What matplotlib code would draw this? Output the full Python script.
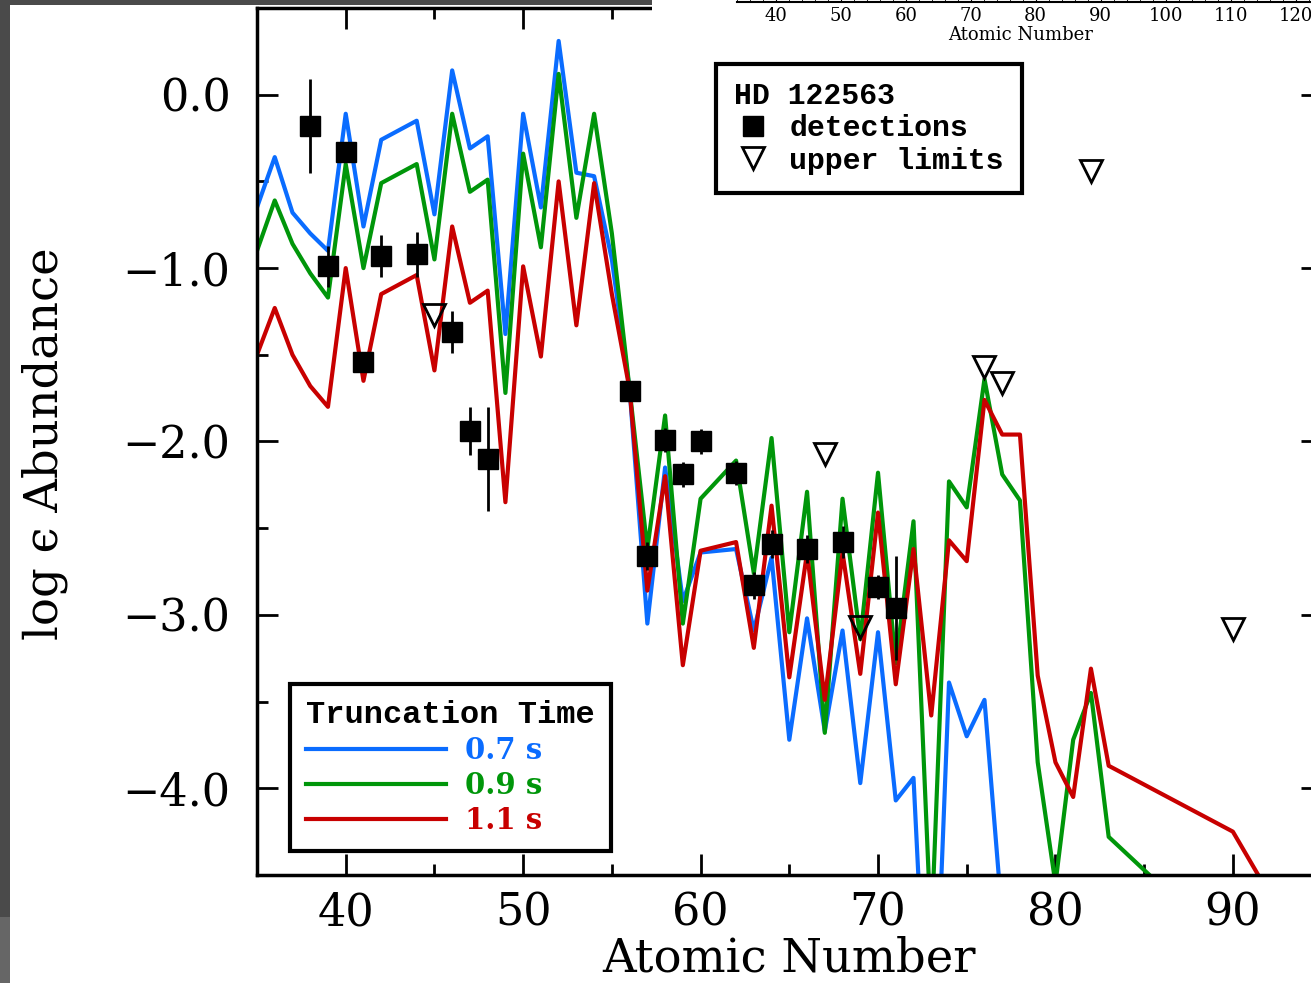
import numpy as np
import matplotlib
matplotlib.use('Agg')
import matplotlib.pyplot as plt
from matplotlib.patches import Rectangle
from matplotlib.ticker import MultipleLocator, FuncFormatter
from matplotlib.font_manager import FontProperties

#------------------DATA------------------#

# atomic numbers of the model curves (no points for Tc, Pm, Po..Ac, Pa)
z_model = [35, 36, 37, 38, 39, 40, 41, 42,
           44, 45, 46, 47, 48, 49, 50, 51, 52, 53, 54, 55, 56, 57, 58, 59, 60,
           62, 63, 64, 65, 66, 67, 68, 69, 70, 71, 72, 73, 74, 75, 76, 77, 78,
           79, 80, 81, 82, 83, 90, 92]

nan = np.nan
# log eps for truncation time 0.7 s
logeps_07 = [-0.65, -0.36, -0.68, -0.80, -0.90, -0.11, -0.76, -0.26,
             -0.15, -0.69, 0.14, -0.31, -0.24, -1.38, -0.11, -0.65, 0.31, -0.45, -0.47, -0.95, -1.70,
             -3.05, -2.15, -2.92, -2.64,
             -2.62, -3.09, -2.67, -3.72, -3.02, -3.67, -3.09, -3.97, -3.10, -4.07, -3.94, -6.00,
             -3.39, -3.70, -3.49, -4.75, nan,
             nan, nan, nan, nan, nan, nan, nan]
# 0.9 s
logeps_09 = [-0.90, -0.61, -0.86, -1.03, -1.17, -0.40, -1.00, -0.51,
             -0.40, -0.95, -0.11, -0.56, -0.49, -1.72, -0.34, -0.88, 0.12, -0.71, -0.11, -0.80, -1.70,
             -2.62, -1.85, -3.05, -2.33,
             -2.11, -2.76, -1.98, -3.10, -2.29, -3.68, -2.33, -3.14, -2.18, -3.28, -2.46, -4.85,
             -2.23, -2.38, -1.64, -2.19, -2.34,
             -3.85, -4.55, -3.72, -3.45, -4.28, -4.95, nan]
# 1.1 s
logeps_11 = [-1.50, -1.23, -1.50, -1.68, -1.80, -1.00, -1.65, -1.15,
             -1.04, -1.59, -0.76, -1.20, -1.13, -2.35, -0.99, -1.51, -0.50, -1.33, -0.51, -1.15, -1.70,
             -2.86, -2.20, -3.29, -2.63,
             -2.58, -3.19, -2.37, -3.36, -2.64, -3.49, -2.64, -3.34, -2.41, -3.40, -2.62, -3.58,
             -2.57, -2.69, -1.76, -1.96, -1.96,
             -3.35, -3.85, -4.05, -3.31, -3.87, -4.25, -4.60]

series_labels = ['0.7 s', '0.9 s', '1.1 s']
series_colors = ['#0a6cff', '#00960a', '#c80000']

# HD 122563 detections
det_z = [38, 39, 40, 41, 42, 44, 46, 47, 48, 56, 57, 58, 59, 60, 62, 63, 64, 66, 68, 70, 71]
det_logeps = [-0.18, -0.99, -0.33, -1.54, -0.93, -0.92, -1.37, -1.94, -2.10, -1.71, -2.66,
              -1.99, -2.19, -2.00, -2.18, -2.83, -2.59, -2.62, -2.58, -2.84, -2.96]
det_err = [0.27, 0.12, 0.05, 0.05, 0.12, 0.13, 0.12, 0.14, 0.30, 0.05, 0.08,
           0.07, 0.07, 0.07, 0.07, 0.08, 0.08, 0.08, 0.09, 0.07, 0.30]

# upper limits
ul_z = [45, 67, 69, 76, 77, 82, 90]
ul_logeps = [-1.27, -2.07, -3.07, -1.57, -1.66, -0.44, -3.08]

x_ticks = [40, 50, 60, 70, 80, 90]
y_ticks = [0.0, -1.0, -2.0, -3.0, -4.0]
top_ticks = [40, 50, 60, 70, 80, 90, 100, 110, 120]

#------------------FIGURE------------------#
W, H = 1311, 983
fig = plt.figure(figsize=(W / 100, H / 100), dpi=100)

def fx(px):
    return px / W

def fy(py):
    return 1 - py / H

serif = ['DejaVu Serif', 'DejaVu Sans']
mono1 = FontProperties(family='Liberation Mono', weight='bold', size=21.5)
mono2 = FontProperties(family='Liberation Mono', weight='bold', size=23)

ax = fig.add_axes([fx(257), fy(875), (1321.6 - 257) / W, (875 - 8) / H])
ax.set_xlim(35, 95)
ax.set_ylim(-4.5, 0.5)

lines = []
for vals, lab, col in zip([logeps_07, logeps_09, logeps_11], series_labels, series_colors):
    ln, = ax.plot(z_model, vals, color=col, lw=3.0, label=lab, zorder=2)
    lines.append(ln)

ax.errorbar(det_z, det_logeps, yerr=det_err, fmt='none', ecolor='black', elinewidth=2, capsize=0, zorder=3)
squares, = ax.plot(det_z, det_logeps, 's', color='black', ms=14, zorder=4)
tris, = ax.plot(ul_z, ul_logeps, 'v', mfc='none', mec='black', mew=2.0, ms=16, zorder=4)

# axes style
for s in ax.spines.values():
    s.set_linewidth(2.5)
ax.xaxis.set_major_locator(plt.FixedLocator(x_ticks))
ax.xaxis.set_minor_locator(MultipleLocator(5))
ax.yaxis.set_major_locator(plt.FixedLocator(y_ticks))
ax.yaxis.set_minor_locator(MultipleLocator(0.5))
ax.yaxis.set_major_formatter(FuncFormatter(lambda v, p: f'{v:.1f}'.replace('-', '\u2212')))
ax.tick_params(which='both', direction='in', top=True, right=True, width=2)
ax.tick_params(which='major', length=15)
ax.tick_params(which='minor', length=8)
ax.tick_params(axis='y', pad=19)
ax.tick_params(axis='x', pad=12)
for t in ax.get_xticklabels() + ax.get_yticklabels():
    t.set_fontfamily(serif)
    t.set_fontsize(32)

ax.set_xlabel('Atomic Number', family=serif, fontsize=33.5, va='baseline')
ax.xaxis.set_label_coords(0.5, -(971 - 875) / 867)
ax.set_ylabel('log \u03f5 Abundance', family=serif, fontsize=33.5)
ax.yaxis.set_label_coords(-0.178, 0.497)

# legends
leg1 = ax.legend([squares, tris], ['detections', 'upper limits'], title='HD 122563',
                 loc='upper left', bbox_to_anchor=(fx(716), fy(64)), bbox_transform=fig.transFigure,
                 prop=mono1, title_fontproperties=mono1, alignment='left',
                 fancybox=False, framealpha=1, edgecolor='black', borderaxespad=0,
                 handlelength=1.3, handletextpad=0.55, borderpad=0.6, labelspacing=0.15)
leg1.get_frame().set_linewidth(3)
ax.add_artist(leg1)

leg2 = ax.legend(lines, series_labels, title='Truncation Time',
                 loc='lower left', bbox_to_anchor=(fx(290), fy(851)), bbox_transform=fig.transFigure,
                 prop=FontProperties(family='DejaVu Serif', weight='bold', size=21),
                 title_fontproperties=mono2, alignment='left', labelcolor='linecolor',
                 fancybox=False, framealpha=1, edgecolor='black', borderaxespad=0,
                 handlelength=4.8, handletextpad=0.65, borderpad=0.55, labelspacing=0.2)
leg2.get_frame().set_linewidth(3)

#------------------SCREENSHOT EDGES------------------#
# white block of the pasted panel above, and its bottom axis
fig.patches.append(Rectangle((fx(652), fy(47)), fx(W - 652), 47 / H, transform=fig.transFigure,
                             facecolor='white', edgecolor='none', zorder=1.5))
ax2 = fig.add_axes([fx(737), fy(1.5), 591 / W, 0.1])
ax2.set_zorder(2)
ax2.patch.set_visible(False)
ax2.set_xlim(34, 125)
ax2.set_yticks([])
for side in ['top', 'left', 'right']:
    ax2.spines[side].set_visible(False)
ax2.spines['bottom'].set_linewidth(1.5)
ax2.set_xticks(top_ticks)
ax2.xaxis.set_minor_locator(MultipleLocator(2))
ax2.tick_params(which='both', direction='in', pad=4, labelsize=13)
for t in ax2.get_xticklabels():
    t.set_fontfamily(serif)
ax2.set_xlabel('Atomic Number', family=serif, fontsize=13)
ax2.xaxis.set_label_coords((1021 - 737) / 591, -0.245)

# grey borders of the screenshot
dark = '#4a4a4a'
fig.patches.append(Rectangle((0, fy(5)), fx(652), 5 / H, transform=fig.transFigure,
                             facecolor=dark, edgecolor='none', zorder=3))
fig.patches.append(Rectangle((0, fy(917)), fx(10), 917 / H, transform=fig.transFigure,
                             facecolor=dark, edgecolor='none', zorder=3))
fig.patches.append(Rectangle((0, 0), fx(10), fy(917), transform=fig.transFigure,
                             facecolor='#666666', edgecolor='none', zorder=3))

fig.savefig('out.png', dpi=100)
